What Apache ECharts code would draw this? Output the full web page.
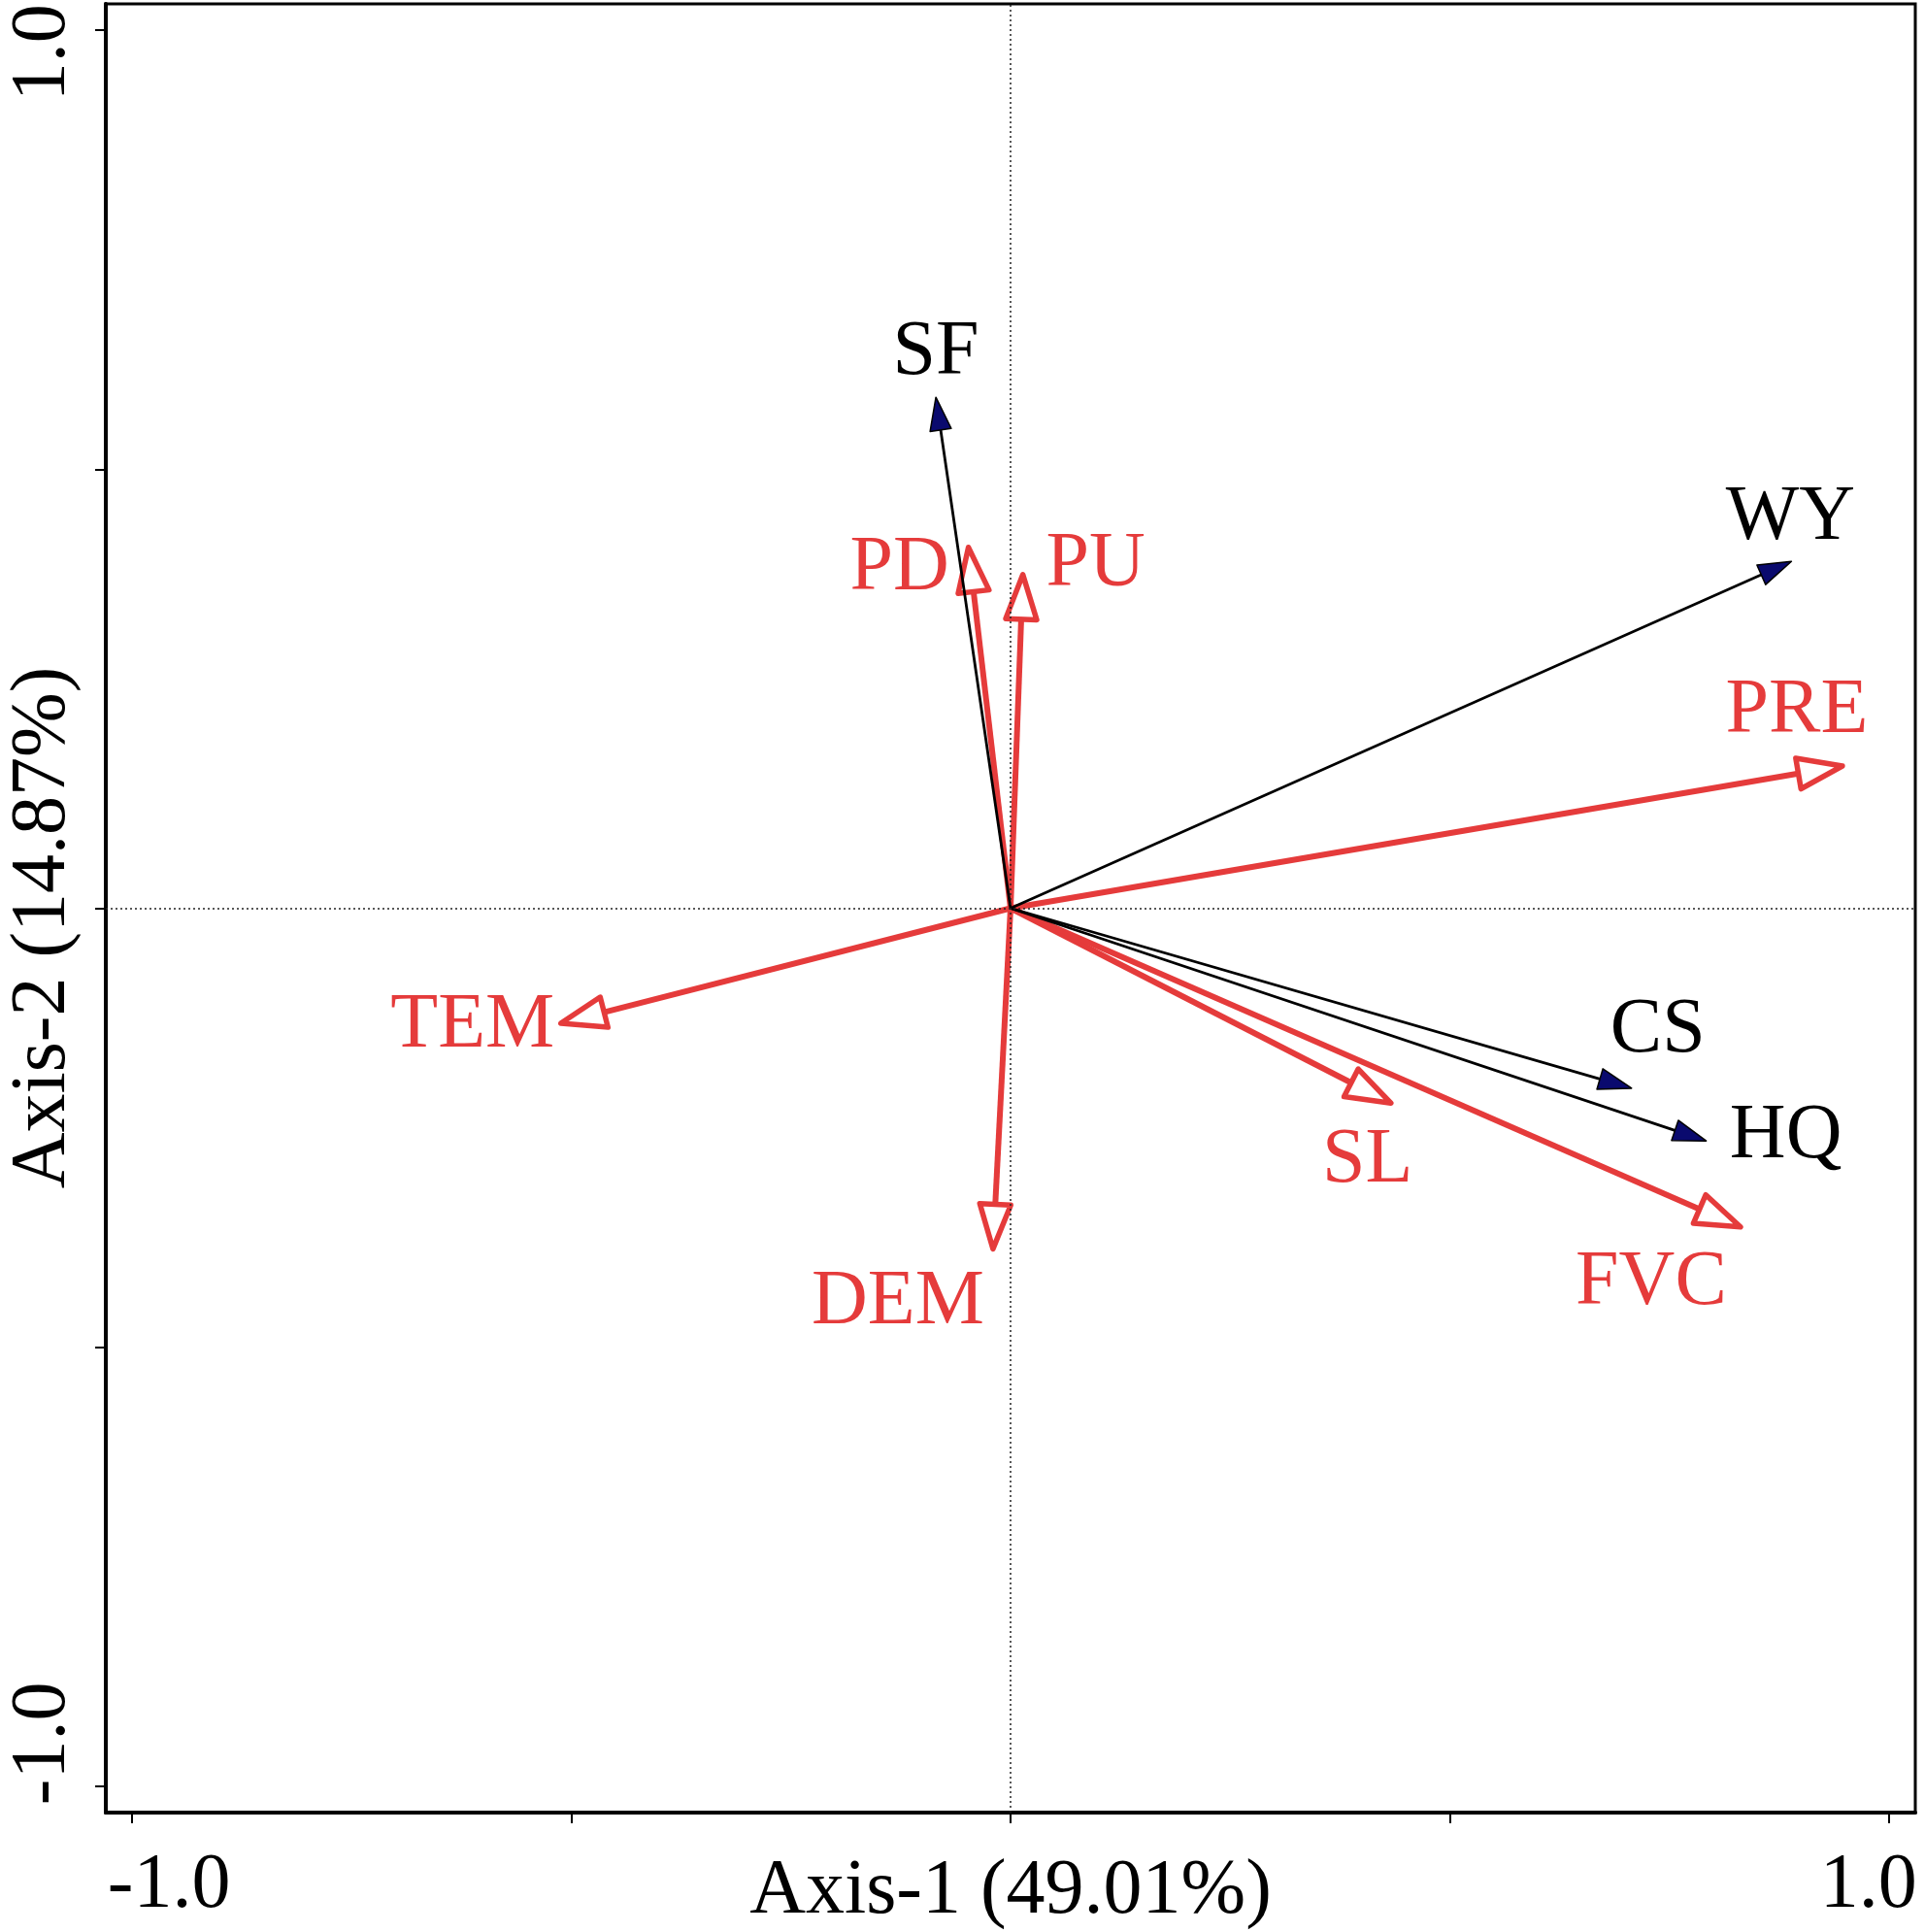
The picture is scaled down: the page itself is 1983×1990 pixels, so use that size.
<!DOCTYPE html>
<html>
<head>
<meta charset="utf-8">
<script src="https://cdn.jsdelivr.net/npm/echarts@6/dist/echarts.min.js"></script>
<style>
  html, body { margin: 0; padding: 0; background: #fff; }
  #chart { width: 1983px; height: 1990px; }
</style>
</head>
<body>
<div id="chart"></div>
<script>
// response variables (black arrows, filled heads)
const responseNames = ['SF', 'WY', 'CS', 'HQ'];
const responseAxis1 = [-0.085, 0.889, 0.707, 0.792];
const responseAxis2 = [0.582, 0.395, -0.205, -0.265];

// explanatory variables (red arrows, open heads)
const explanatoryNames = ['PD', 'PU', 'PRE', 'TEM', 'SL', 'DEM', 'FVC'];
const explanatoryAxis1 = [-0.048, 0.014, 0.947, -0.512, 0.433, -0.020, 0.831];
const explanatoryAxis2 = [0.411, 0.380, 0.162, -0.131, -0.222, -0.388, -0.363];

const tickValues = [-1, -0.5, 0, 0.5, 1];
const labelValues = [-1, 1];
const axis1Title = 'Axis-1 (49.01%)';
const axis2Title = 'Axis-2 (14.87%)';

// label placement, pixels from the arrow tip
const labelOffset = {
  SF: [0, -45], WY: [-1, -44], CS: [27, -59], HQ: [82, -4],
  PD: [-71, 22], PU: [75, -10], PRE: [-47, -56], TEM: [-91, 3],
  SL: [-24, 60], DEM: [-98, 56], FVC: [-92, 58]
};

const RED = '#e53b3b';
const NAVY = '#0a0a6e';
const FONT = '"Liberation Serif", "Times New Roman", serif';

function arrowRenderer(names, look) {
  return function (params, api) {
    const p0 = api.coord([0, 0]);
    const p1 = api.coord([api.value(0), api.value(1)]);
    const dx = p1[0] - p0[0], dy = p1[1] - p0[1];
    const len = Math.hypot(dx, dy);
    const ux = dx / len, uy = dy / len;
    const bx = p1[0] - ux * look.headLen, by = p1[1] - uy * look.headLen;
    const nx = -uy, ny = ux;
    const w = look.headWidth / 2;
    const name = names[params.dataIndex];
    const off = labelOffset[name] || [0, 0];
    return {
      type: 'group',
      children: [
        {
          type: 'line',
          shape: { x1: p0[0], y1: p0[1], x2: bx, y2: by },
          style: { stroke: look.lineColor, lineWidth: look.lineWidth }
        },
        {
          type: 'polygon',
          shape: { points: [[p1[0], p1[1]], [bx + nx * w, by + ny * w], [bx - nx * w, by - ny * w]] },
          style: { fill: look.headFill, stroke: look.lineColor, lineWidth: look.headStroke, lineJoin: 'round' }
        },
        {
          type: 'text',
          style: {
            text: name, x: p1[0] + off[0], y: p1[1] + off[1],
            align: 'center', verticalAlign: 'middle',
            fontFamily: FONT, fontSize: 80, fill: look.textColor
          }
        }
      ]
    };
  };
}

function axisCommon(labelRotate) {
  return {
    type: 'value',
    min: -1.03,
    max: 1.03,
    splitLine: { show: false },
    axisLine: { show: true, onZero: false, lineStyle: { color: '#000', width: 4 } },
    axisTick: { show: true, customValues: tickValues, length: 11, lineStyle: { color: '#000', width: 2 } },
    axisLabel: {
      show: true,
      customValues: labelValues,
      rotate: labelRotate,
      color: '#000',
      fontFamily: FONT,
      fontSize: 80,
      formatter: v => (v < 0 ? '{lo|' + v.toFixed(1) + '}' : '{hi|' + v.toFixed(1) + '}')
    },
    nameLocation: 'middle',
    nameMoveOverlap: false,
    nameTextStyle: { color: '#000', fontFamily: FONT, fontSize: 80 }
  };
}

const xAxis = axisCommon(0);
xAxis.axisLabel.margin = 36;
xAxis.axisLabel.rich = {
  lo: { fontFamily: FONT, fontSize: 80, color: '#000', padding: [0, 0, 0, 76] },
  hi: { fontFamily: FONT, fontSize: 80, color: '#000', padding: [0, 42, 0, 0] }
};
xAxis.name = axis1Title;
xAxis.nameGap = 42;

const yAxis = axisCommon(90);
yAxis.axisLabel.margin = 24;
yAxis.axisLabel.rich = {
  lo: { fontFamily: FONT, fontSize: 80, color: '#000', padding: [0, 0, 0, 88] },
  hi: { fontFamily: FONT, fontSize: 80, color: '#000', padding: [0, 46, 0, 0] }
};
yAxis.name = axis2Title;
yAxis.nameRotate = 90;
yAxis.nameGap = 24;
yAxis.nameTextStyle.padding = [0, 40, 0, 0];

const chart = echarts.init(document.getElementById('chart'));
chart.setOption({
  animation: false,
  backgroundColor: '#fff',
  grid: {
    left: 109, right: 10, top: 4, bottom: 123,
    outerBoundsMode: 'none', containLabel: false,
    show: true, borderColor: '#000', borderWidth: 3
  },
  xAxis: xAxis,
  yAxis: yAxis,
  series: [
    {
      type: 'line',
      data: [],
      silent: true,
      markLine: {
        silent: true,
        symbol: 'none',
        label: { show: false },
        lineStyle: { color: '#222', width: 1.5, type: [2, 3] },
        data: [{ xAxis: 0 }, { yAxis: 0 }]
      }
    },
    {
      type: 'custom',
      z: 3,
      renderItem: arrowRenderer(explanatoryNames, {
        lineColor: RED, lineWidth: 6, headLen: 46, headWidth: 32,
        headFill: '#fff', headStroke: 5.5, textColor: RED
      }),
      data: explanatoryNames.map((n, i) => [explanatoryAxis1[i], explanatoryAxis2[i]])
    },
    {
      type: 'custom',
      z: 4,
      renderItem: arrowRenderer(responseNames, {
        lineColor: '#000', lineWidth: 2.8, headLen: 34, headWidth: 22,
        headFill: NAVY, headStroke: 1.5, textColor: '#000'
      }),
      data: responseNames.map((n, i) => [responseAxis1[i], responseAxis2[i]])
    }
  ]
});
</script>
</body>
</html>
